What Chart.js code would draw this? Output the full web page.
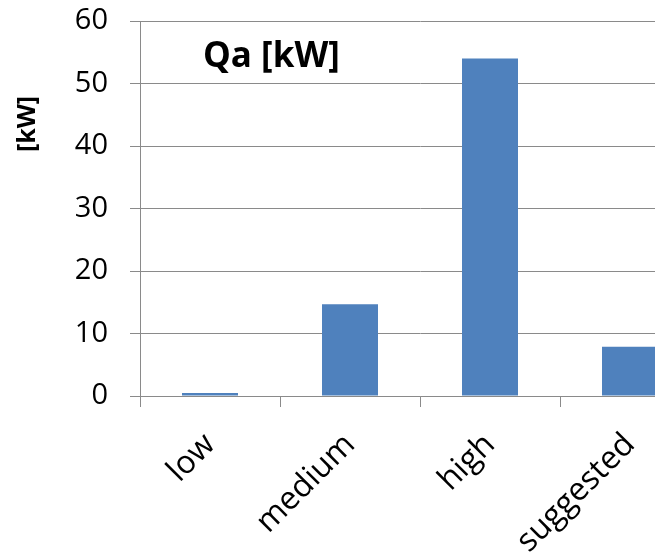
<!DOCTYPE html>
<html>
<head>
<meta charset="utf-8">
<script src="https://cdn.jsdelivr.net/npm/chart.js@4"></script>
<style>
  html, body { margin: 0; padding: 0; background: #fff; overflow: hidden; }
  #wrap { width: 700px; height: 557px; position: relative; }
</style>
</head>
<body>
<div id="wrap"><canvas id="c"></canvas></div>
<script>
// Heat output per operating case
const categories = ['low', 'medium', 'high', 'suggested'];
const qaValues = [0.5, 14.7, 54.0, 7.9];
const yTicks = [0, 10, 20, 30, 40, 50, 60];
const chartTitle = 'Qa [kW]';
const yAxisTitle = '[kW]';

const FONT = '"Open Sans", "DejaVu Sans", sans-serif';
const GRID = '#8a8a8a';

// Draws the in-plot title and the vertical axis caption
const captions = {
  id: 'captions',
  afterDraw(chart) {
    const ctx = chart.ctx;
    ctx.save();
    ctx.fillStyle = '#000';
    ctx.font = 'bold 35px ' + FONT;
    ctx.textAlign = 'left';
    ctx.textBaseline = 'alphabetic';
    ctx.fillText(chartTitle, 203, 67);

    ctx.translate(35, 124);
    ctx.rotate(-Math.PI / 2);
    ctx.font = 'bold 25px ' + FONT;
    ctx.textAlign = 'center';
    ctx.textBaseline = 'alphabetic';
    ctx.fillText(yAxisTitle, 0, 0);
    ctx.restore();
  }
};

new Chart(document.getElementById('c'), {
  type: 'bar',
  data: {
    labels: categories,
    datasets: [{
      data: qaValues,
      backgroundColor: '#4f81bd',
      borderWidth: 0,
      categoryPercentage: 1.0,
      barPercentage: 0.4
    }]
  },
  options: {
    responsive: true,
    maintainAspectRatio: false,
    animation: false,
    layout: { padding: { top: 21, left: 0, right: 0, bottom: 0 } },
    plugins: {
      legend: { display: false },
      tooltip: { enabled: false },
      title: { display: false }
    },
    scales: {
      x: {
        afterFit(scale) { scale.height = 161; scale.paddingLeft = 0; scale.paddingRight = 0; },
        grid: {
          offset: true,
          drawOnChartArea: false,
          drawTicks: true,
          tickLength: 11,
          color: GRID,
          lineWidth: 1
        },
        border: { color: GRID, width: 1 },
        ticks: {
          maxRotation: 45,
          minRotation: 45,
          autoSkip: false,
          padding: 19,
          color: '#000',
          font: { family: FONT, size: 32 }
        }
      },
      y: {
        min: 0,
        max: 60,
        afterFit(scale) { scale.width = 140; scale.paddingTop = 0; scale.paddingBottom = 0; },
        afterBuildTicks(scale) { scale.ticks = yTicks.map(v => ({ value: v })); },
        grid: {
          color: GRID,
          lineWidth: 1,
          drawTicks: true,
          tickLength: 10
        },
        border: { color: GRID, width: 1 },
        ticks: {
          padding: 22,
          color: '#000',
          font: { family: FONT, size: 29 }
        }
      }
    }
  },
  plugins: [captions]
});
</script>
</body>
</html>
